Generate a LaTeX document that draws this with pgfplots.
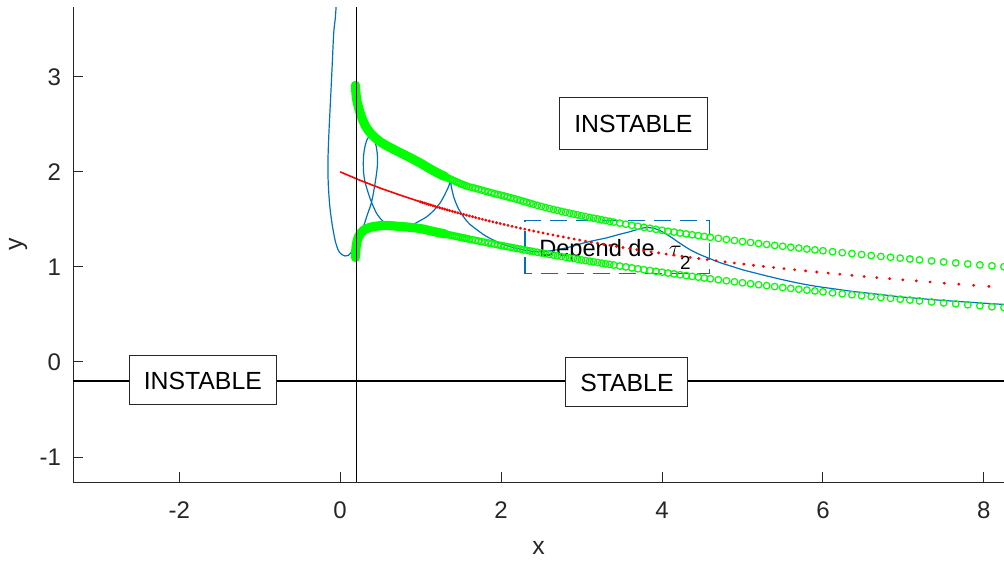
\documentclass[border=0pt]{standalone}
\usepackage{fontspec}
\setmainfont{Liberation Sans}
\usepackage{pgfplots}
\pgfplotsset{compat=1.18}
\usepackage{pgfplotstable}
\definecolor{mblue}{RGB}{0,114,189}
\definecolor{axgray}{RGB}{38,38,38}

\pgfplotstableread{
x yu yl
1.000 2.090 1.403
1.025 2.077 1.398
1.050 2.064 1.394
1.075 2.052 1.389
1.100 2.040 1.384
1.125 2.028 1.379
1.150 2.016 1.375
1.175 2.005 1.370
1.200 1.993 1.365
1.225 1.982 1.361
1.250 1.972 1.356
1.275 1.961 1.351
1.300 1.951 1.347
1.325 1.941 1.342
1.350 1.931 1.338
1.375 1.921 1.333
1.400 1.912 1.329
1.425 1.902 1.324
1.450 1.893 1.320
1.475 1.884 1.315
1.500 1.875 1.311
1.525 1.866 1.306
1.550 1.858 1.302
1.575 1.849 1.298
1.60 1.843 1.293
1.64 1.835 1.286
1.68 1.826 1.279
1.72 1.817 1.272
1.76 1.807 1.266
1.80 1.798 1.259
1.84 1.789 1.252
1.88 1.780 1.245
1.92 1.771 1.239
1.96 1.762 1.232
2.00 1.754 1.225
2.04 1.745 1.219
2.08 1.737 1.212
2.12 1.728 1.206
2.16 1.719 1.199
2.20 1.709 1.193
2.24 1.699 1.187
2.28 1.689 1.180
2.32 1.679 1.174
2.36 1.669 1.168
2.40 1.659 1.162
2.45 1.647 1.154
2.50 1.636 1.146
2.55 1.625 1.139
2.60 1.614 1.131
2.65 1.603 1.124
2.70 1.594 1.117
2.75 1.584 1.109
2.80 1.574 1.102
2.85 1.565 1.095
2.90 1.556 1.088
2.95 1.547 1.081
3.00 1.538 1.073
3.05 1.529 1.066
3.10 1.520 1.060
3.15 1.512 1.053
3.20 1.504 1.046
3.25 1.495 1.039
3.30 1.487 1.032
3.35 1.479 1.026
3.400 1.471 1.019
3.475 1.460 1.009
3.550 1.449 1.000
3.625 1.437 0.990
3.700 1.427 0.980
3.775 1.416 0.971
3.850 1.406 0.962
3.925 1.395 0.953
4.000 1.385 0.944
4.075 1.375 0.935
4.150 1.366 0.926
4.225 1.356 0.917
4.300 1.347 0.909
4.375 1.338 0.900
4.450 1.329 0.892
4.525 1.320 0.883
4.6 1.311 0.875
4.7 1.300 0.864
4.8 1.289 0.854
4.9 1.278 0.843
5.0 1.267 0.833
5.1 1.257 0.823
5.2 1.246 0.813
5.3 1.236 0.803
5.4 1.226 0.793
5.5 1.217 0.783
5.6 1.207 0.774
5.7 1.198 0.765
5.8 1.188 0.756
5.9 1.179 0.747
6.00 1.170 0.738
6.12 1.160 0.727
6.24 1.150 0.717
6.36 1.140 0.707
6.48 1.130 0.697
6.60 1.120 0.688
6.72 1.110 0.678
6.84 1.101 0.669
6.96 1.092 0.660
7.08 1.083 0.651
7.20 1.074 0.642
7.35 1.063 0.631
7.50 1.052 0.621
7.65 1.042 0.611
7.80 1.031 0.601
7.95 1.021 0.591
8.10 1.011 0.581
8.25 1.002 0.572
}\greendata

\pgfplotstableread{
x y
1.000 1.684
1.024 1.677
1.049 1.671
1.074 1.664
1.100 1.657
1.126 1.651
1.153 1.644
1.181 1.637
1.209 1.630
1.238 1.622
1.268 1.615
1.298 1.608
1.329 1.600
1.361 1.593
1.394 1.585
1.427 1.577
1.462 1.569
1.497 1.561
1.533 1.553
1.569 1.544
1.607 1.536
1.646 1.528
1.685 1.519
1.726 1.510
1.767 1.501
1.809 1.492
1.853 1.483
1.897 1.474
1.943 1.465
1.989 1.456
2.037 1.446
2.086 1.437
2.136 1.427
2.187 1.417
2.240 1.407
2.294 1.397
2.349 1.387
2.405 1.377
2.463 1.367
2.522 1.357
2.582 1.346
2.644 1.336
2.708 1.325
2.773 1.315
2.839 1.304
2.908 1.293
2.977 1.282
3.049 1.271
3.122 1.260
3.197 1.249
3.274 1.238
3.352 1.227
3.433 1.216
3.515 1.204
3.599 1.193
3.686 1.181
3.774 1.170
3.865 1.158
3.958 1.147
4.052 1.135
4.150 1.124
4.249 1.112
4.351 1.100
4.456 1.088
4.563 1.077
4.672 1.065
4.784 1.053
4.899 1.041
5.017 1.029
5.137 1.017
5.260 1.006
5.387 0.994
5.516 0.982
5.648 0.970
5.784 0.958
5.923 0.946
6.065 0.935
6.210 0.923
6.360 0.911
6.512 0.899
6.668 0.887
6.829 0.876
6.992 0.864
7.160 0.853
7.332 0.841
7.508 0.829
7.688 0.818
7.873 0.806
8.062 0.795
8.255 0.784
}\reddata

\begin{document}
\begin{tikzpicture}
\begin{axis}[
  at={(0,0)}, anchor=south west,
  scale only axis, width=465.5pt, height=237.5pt,
  xmin=-3.32, xmax=8.25, ymin=-1.263, ymax=3.734,
  axis lines=left, axis line style={-, draw=axgray, line width=0.5pt},
  xtick={-2,0,2,4,6,8}, xticklabels={-2,0,2,4,6,8},
  ytick={-1,0,1,2,3}, yticklabels={-1,0,1,2,3},
  tick align=inside, major tick length=5pt,
  tick style={draw=axgray, line width=0.5pt},
  ticklabel style={font=\fontsize{12}{14}\selectfont, text=axgray},
  xticklabel style={yshift=-6.5pt},
  yticklabel style={xshift=-2.5pt},
  xlabel={x}, ylabel={y},
  label style={font=\fontsize{12.4}{14}\selectfont, text=axgray},
  xlabel style={at={(axis description cs:0.5,-0.139)}, anchor=center},
  ylabel style={at={(axis description cs:-0.059,0.5)}, anchor=center},
]
% blue curve
\addplot[mblue, line width=0.6pt, smooth, tension=0.5] coordinates {
(-0.045,3.80) (-0.06,3.62) (-0.08,3.46) (-0.10,3.10) (-0.12,2.75) (-0.14,2.40)
(-0.152,2.10) (-0.148,1.88) (-0.13,1.65) (-0.10,1.45) (-0.06,1.27) (-0.02,1.17)
(0.02,1.13) (0.06,1.115) (0.10,1.12) (0.145,1.16) (0.19,1.21) (0.23,1.30)
(0.27,1.39) (0.30,1.45) (0.33,1.53) (0.39,1.68) (0.43,1.86) (0.455,2.00)
(0.465,2.10) (0.46,2.20) (0.445,2.28) (0.42,2.335) (0.39,2.365) (0.365,2.37)
(0.34,2.35) (0.315,2.29) (0.295,2.20) (0.288,2.10) (0.292,1.99) (0.305,1.91)
(0.33,1.83) (0.36,1.75) (0.39,1.68) (0.455,1.56) (0.52,1.49) (0.58,1.45)
(0.65,1.42) (0.72,1.405) (0.80,1.415) (0.89,1.44) (0.98,1.48) (1.08,1.53)
(1.17,1.60) (1.24,1.67) (1.30,1.76) (1.345,1.84) (1.37,1.90)};
\addplot[mblue, line width=0.6pt, smooth, tension=0.5] coordinates {
(1.37,1.90) (1.385,1.83) (1.41,1.74) (1.46,1.63) (1.53,1.53) (1.61,1.45)
(1.70,1.39) (1.80,1.33) (1.91,1.28) (2.03,1.235) (2.15,1.205) (2.30,1.175)
(2.45,1.16) (2.57,1.165) (2.73,1.185) (2.88,1.215) (3.02,1.25) (3.17,1.28)
(3.31,1.305) (3.46,1.34) (3.60,1.37) (3.72,1.40) (3.81,1.415) (3.90,1.405)
(3.98,1.38) (4.10,1.32) (4.22,1.25) (4.35,1.18) (4.47,1.13) (4.60,1.085)
(4.72,1.045) (4.85,1.01) (5.00,0.97) (5.10,0.948) (5.30,0.905) (5.50,0.865)
(5.72,0.825) (5.92,0.795) (6.13,0.77) (6.34,0.745) (6.55,0.725) (6.76,0.705)
(6.96,0.685) (7.17,0.67) (7.37,0.655) (7.58,0.642) (7.79,0.63) (8.0,0.618) (8.25,0.605)};
% red
\addplot[red, line width=0.8pt] coordinates {(0,2.0) (0.25,1.910) (0.5,1.828) (0.75,1.754) (1.0,1.684)};
\addplot[only marks, mark=*, mark size=0.5pt, red, mark options={draw=none, fill=red}] table[x=x,y=y]{\reddata};
% green
\addplot[green, line width=4.6pt, line cap=round, line join=round, smooth, tension=0.4] coordinates {
(0.19,2.91) (0.195,2.84) (0.205,2.76) (0.225,2.69) (0.26,2.59) (0.31,2.49) (0.36,2.425)
(0.42,2.37) (0.50,2.315) (0.60,2.265) (0.72,2.213) (0.85,2.158) (1.0,2.090) (1.1,2.040) (1.2,1.993) (1.3,1.951)};
\addplot[green, line width=4.6pt, line cap=round, line join=round, smooth, tension=0.4] coordinates {
(0.19,1.10) (0.195,1.18) (0.205,1.25) (0.225,1.31) (0.26,1.36) (0.31,1.395) (0.38,1.418)
(0.48,1.432) (0.60,1.435) (0.72,1.427) (0.85,1.418) (1.0,1.403) (1.1,1.384) (1.2,1.365) (1.3,1.347)};
\addplot[only marks, mark=o, mark size=1.65pt, green, mark options={line width=0.6pt}] table[x=x,y=yu]{\greendata};
\addplot[only marks, mark=o, mark size=1.65pt, green, mark options={line width=0.6pt}] table[x=x,y=yl]{\greendata};
% black lines
\addplot[black, line width=0.6pt] coordinates {(0.2,-1.263) (0.2,3.734)};
\addplot[black, line width=0.6pt] coordinates {(-3.32,-0.2) (8.25,-0.2)};
% annotations
\draw[draw=mblue, line width=0.8pt, dash pattern=on 8.5pt off 4.5pt] (axis cs:2.30,0.93) rectangle (axis cs:4.59,1.49);
\node[anchor=base west, font=\fontsize{11.8}{14}\selectfont, inner sep=0pt] at (axis cs:2.47,1.11)
  {Depend de\hspace{7pt}{\fontsize{13}{14}\selectfont$\tau$}\kern-0.8pt\raisebox{-6.3pt}{\fontsize{9.5}{10}\selectfont 2}};
\node[draw=axgray, fill=white, line width=0.5pt, font=\fontsize{12.4}{14}\selectfont,
  minimum width=74pt, minimum height=26pt, inner sep=0pt, text height=9pt, text depth=0pt]
  at (axis cs:3.644,2.505) {INSTABLE};
\node[draw=axgray, fill=white, line width=0.5pt, font=\fontsize{12.4}{14}\selectfont,
  minimum width=73.7pt, minimum height=24.5pt, inner sep=0pt, text height=9pt, text depth=0pt]
  at (axis cs:-1.707,-0.191) {INSTABLE};
\node[draw=axgray, fill=white, line width=0.5pt, font=\fontsize{12.4}{14}\selectfont,
  minimum width=61pt, minimum height=24.5pt, inner sep=0pt, text height=9pt, text depth=0pt]
  at (axis cs:3.564,-0.212) {STABLE};
\end{axis}
\pgfresetboundingbox
\path[use as bounding box] (-36.5pt,-40.5pt) rectangle (465.5pt,241pt);
\end{tikzpicture}
\end{document}
